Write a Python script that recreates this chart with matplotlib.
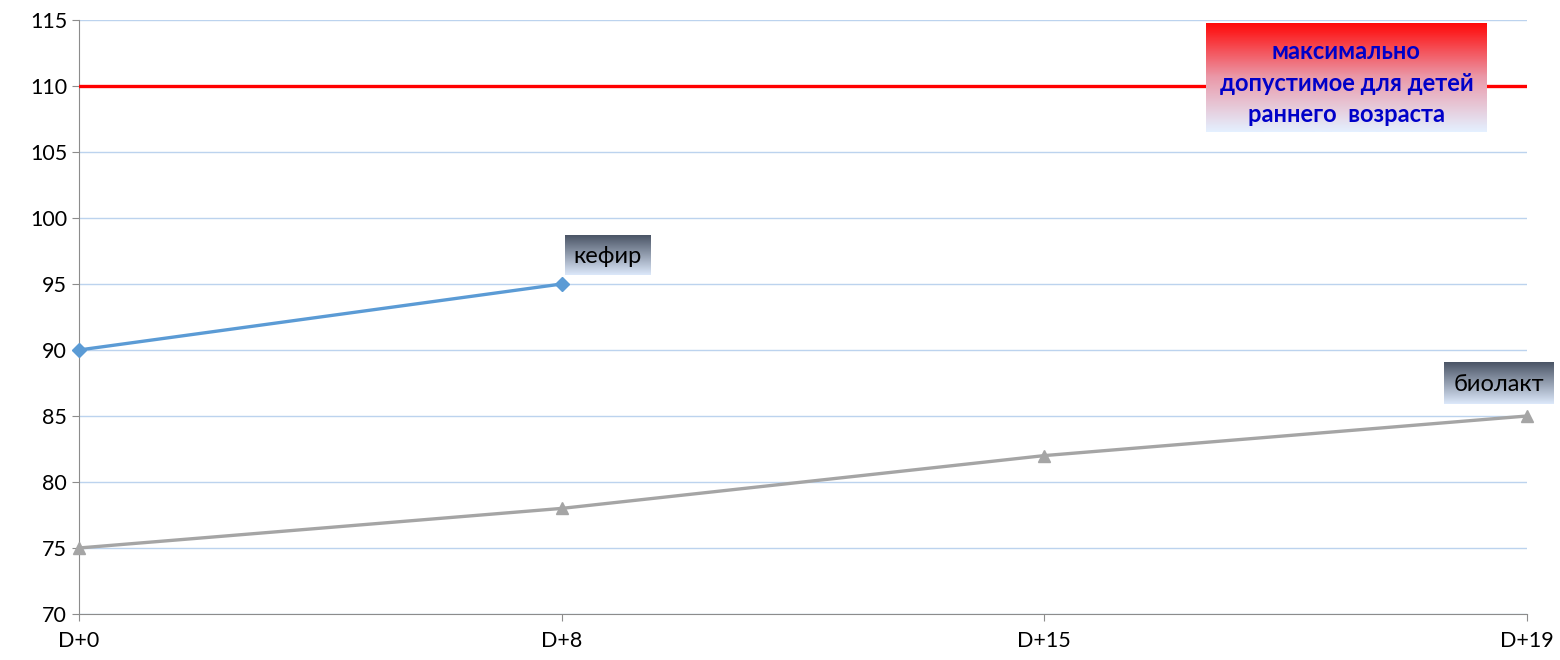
import numpy as np
import matplotlib
matplotlib.use("Agg")
import matplotlib.pyplot as plt
from matplotlib.colors import LinearSegmentedColormap

plt.rcParams['font.family'] = ['Lato', 'DejaVu Sans']

categories = ['D+0', 'D+8', 'D+15', 'D+19']
kefir = [90, 95]
biolakt = [75, 78, 82, 85]
limit_value = 110
limit_text = 'максимально\nдопустимое для детей\nраннего  возраста'

fig = plt.figure(figsize=(15.6, 6.6), dpi=100)
ax = fig.add_axes([0.0506, 0.0697, 0.9282, 0.9])

x = np.arange(len(categories))
ax.axhline(limit_value, color='#ff0000', linewidth=2.4, zorder=3)
ax.plot(x[:len(kefir)], kefir, color='#5b9bd5', linewidth=2.4, marker='D',
        markersize=7, zorder=4, clip_on=False)
ax.plot(x, biolakt, color='#a5a5a5', linewidth=2.4, marker='^',
        markersize=9, zorder=4, clip_on=False)

ax.set_xlim(0, len(categories) - 1)
ax.set_ylim(70, 115)
ax.set_yticks(range(70, 116, 5))
ax.set_xticks(x)
ax.set_xticklabels(categories)
ax.grid(axis='y', color='#bcd3ee', linewidth=1)
ax.set_axisbelow(True)
for s in ['top', 'right']:
    ax.spines[s].set_visible(False)
for s in ['left', 'bottom']:
    ax.spines[s].set_color('#8c8c8c')
ax.tick_params(colors='#8c8c8c', labelcolor='black', labelsize=15.5, length=5)
ax.tick_params(axis='x', pad=7)


def gradient_box(x0, x1, y0, y1, top, bottom, mid=None):
    cols = [top, mid, bottom] if mid else [top, bottom]
    cmap = LinearSegmentedColormap.from_list('g', cols)
    grad = np.linspace(0, 1, 100).reshape(-1, 1)
    ax.imshow(grad, cmap=cmap, extent=[x0, x1, y0, y1], aspect='auto',
              origin='upper', zorder=5, clip_on=False)


# label boxes
gradient_box(2.335, 2.917, 106.5, 114.7, '#ff0a0a', '#e4f0ff', '#ea9aaa')
ax.text(2.626, 110.2, limit_text, ha='center', va='center', fontsize=17,
        fontweight='bold', color='#0000c8', linespacing=1.45, zorder=6)

gradient_box(1.007, 1.185, 95.68, 98.71, '#4b5566', '#dce8fa')
ax.text(1.096, 97.1, 'кефир', ha='center', va='center', fontsize=17,
        color='black', zorder=6)

gradient_box(2.828, 3.054, 85.91, 89.09, '#4b5566', '#dce8fa')
ax.text(2.941, 87.4, 'биолакт', ha='center', va='center', fontsize=17,
        color='black', zorder=6, clip_on=False)

ax.set_xlim(0, len(categories) - 1)
ax.set_ylim(70, 115)

fig.savefig('out.png', dpi=100)
